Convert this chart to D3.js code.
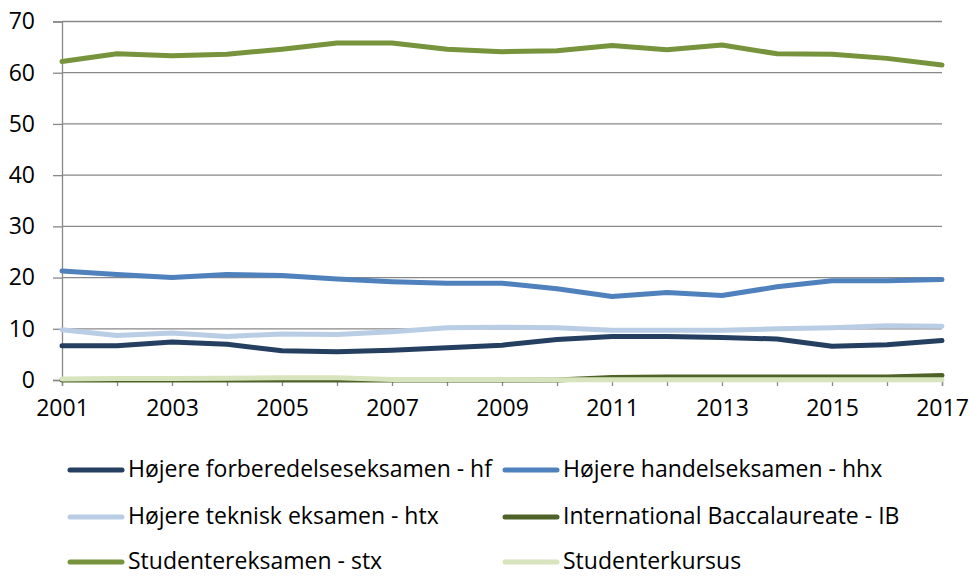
<!DOCTYPE html>
<html>
<head>
<meta charset="utf-8">
<script src="https://cdn.jsdelivr.net/npm/d3@7"></script>
<style>
  body { margin: 0; background: #fff; }
  text { font-family: "Open Sans", sans-serif; fill: #000; }
</style>
</head>
<body>
<svg width="969" height="577"></svg>
<script>
const years = d3.range(2001, 2018);
const yTicks = [0, 10, 20, 30, 40, 50, 60, 70];
const xLabels = [2001, 2003, 2005, 2007, 2009, 2011, 2013, 2015, 2017];

const seriesNames = [
  "Højere forberedelseseksamen - hf",
  "Højere handelseksamen - hhx",
  "Højere teknisk eksamen - htx",
  "International Baccalaureate - IB",
  "Studentereksamen - stx",
  "Studenterkursus"
];
const hf = [6.7, 6.7, 7.4, 7.0, 5.7, 5.5, 5.8, 6.3, 6.8, 7.9, 8.5, 8.5, 8.3, 8.0, 6.6, 6.9, 7.7];
const hhx = [21.3, 20.6, 20.0, 20.6, 20.4, 19.7, 19.2, 18.9, 18.9, 17.8, 16.3, 17.1, 16.5, 18.2, 19.4, 19.4, 19.6];
const htx = [9.8, 8.7, 9.2, 8.5, 9.0, 8.9, 9.4, 10.2, 10.3, 10.2, 9.7, 9.7, 9.7, 10.0, 10.2, 10.6, 10.5];
const ib = [0, 0, 0, 0, 0, 0, 0, 0, 0, 0, 0.5, 0.6, 0.6, 0.6, 0.6, 0.6, 0.9];
const stx = [62.2, 63.7, 63.3, 63.6, 64.6, 65.8, 65.8, 64.6, 64.1, 64.3, 65.3, 64.5, 65.4, 63.7, 63.6, 62.8, 61.5];
const kursus = [0.2, 0.3, 0.3, 0.35, 0.45, 0.45, 0.1, 0.1, 0.1, 0.05, 0.05, 0.05, 0.05, 0.05, 0.05, 0.05, 0.05];
const colors = ["#243F60", "#4F81BD", "#B9CDE5", "#4F6228", "#77933C", "#D7E4BD"];

const allValues = [hf, hhx, htx, ib, stx, kursus];

const svg = d3.select("svg");
const margin = { top: 21.5, left: 62, right: 27, bottom: 197 };
const width = 969 - margin.left - margin.right;
const height = 577 - margin.top - margin.bottom;

const x = d3.scaleLinear().domain([2001, 2017]).range([0, width]);
const y = d3.scaleLinear().domain([0, 70]).range([height, 0]);

const g = svg.append("g")
  .attr("transform", `translate(${margin.left},${margin.top})`);

// gridlines
g.append("g")
  .selectAll("line")
  .data(yTicks)
  .join("line")
  .attr("x1", 0)
  .attr("x2", width)
  .attr("y1", d => y(d))
  .attr("y2", d => y(d))
  .attr("stroke", "#888")
  .attr("stroke-width", 1.3);

// y axis
const yAxis = g.append("g")
  .call(d3.axisLeft(y).tickValues(yTicks).tickSize(9).tickPadding(18));
yAxis.select(".domain").attr("stroke", "#888").attr("stroke-width", 1.3);
yAxis.selectAll(".tick line").attr("stroke", "#888").attr("stroke-width", 1.3);
yAxis.selectAll("text").style("font-size", "23px").attr("font-family", null);

// x axis
const xAxis = g.append("g")
  .attr("transform", `translate(0,${height})`)
  .call(d3.axisBottom(x).tickValues(years).tickSize(6).tickPadding(14)
    .tickFormat(d => xLabels.includes(d) ? d : ""));
xAxis.select(".domain").attr("stroke", "#888").attr("stroke-width", 1.3);
xAxis.selectAll(".tick line").attr("stroke", "#888").attr("stroke-width", 1.3);
xAxis.selectAll("text").style("font-size", "23px").attr("font-family", null);

const line = d3.line()
  .x((d, i) => x(years[i]))
  .y(d => y(d));

g.selectAll(".series")
  .data(allValues)
  .join("path")
  .attr("class", "series")
  .attr("d", line)
  .attr("fill", "none")
  .attr("stroke", (d, i) => colors[i])
  .attr("stroke-width", 5)
  .attr("stroke-linejoin", "round")
  .attr("stroke-linecap", "round");

// legend
const legendCols = [70, 505];
const legendRows = [470, 517, 562];
const legend = svg.append("g");
seriesNames.forEach((name, i) => {
  const lx = legendCols[i % 2];
  const ly = legendRows[Math.floor(i / 2)];
  legend.append("line")
    .attr("x1", lx).attr("x2", lx + 52)
    .attr("y1", ly).attr("y2", ly)
    .attr("stroke", colors[i])
    .attr("stroke-width", 5)
    .attr("stroke-linecap", "round");
  legend.append("text")
    .attr("x", lx + 58)
    .attr("y", ly + 7)
    .style("font-size", "23px")
    .text(name);
});
</script>
</body>
</html>
